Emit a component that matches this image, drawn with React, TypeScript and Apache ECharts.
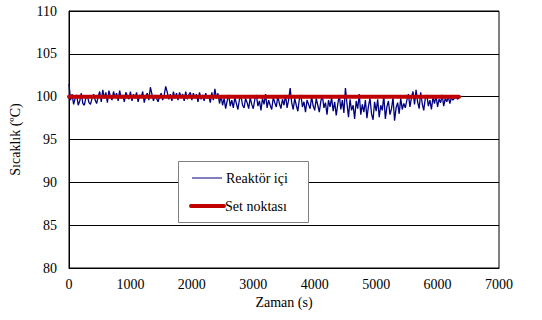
import React, { useEffect, useRef } from "react";
import * as echarts from "echarts";

const step = 25;
const reactorTemps: number[] = [
  101.5, 99.6, 100.3, 99.1, 99.8, 100.2, 99.0, 99.5, 100.4, 99.2, 99.0, 99.9, 100.1, 99.3, 99.1, 99.8, 100.3, 99.6, 99.2, 100.0,
  100.6, 99.4, 100.8, 99.8, 100.5, 99.3, 100.7, 100.0, 99.6, 100.6, 99.9, 100.4, 99.5, 100.7, 99.8, 100.2, 99.4, 100.5, 100.1, 99.7,
  100.6, 99.5, 100.3, 99.8, 100.5, 99.4, 100.2, 99.9, 100.6, 99.3, 100.1, 100.4, 99.6, 101.1, 100.3, 99.5, 100.2, 99.8, 99.4, 100.0,
  100.4, 99.6, 100.2, 101.2, 100.5, 99.7, 100.3, 99.5, 100.6, 99.8, 100.4, 99.6, 100.5, 99.9, 100.3, 99.5, 100.6, 99.7, 100.2, 100.5,
  99.6, 100.4, 99.8, 100.3, 99.4, 100.5, 99.7, 100.2, 99.5, 100.4, 99.8, 100.1, 99.3, 100.5, 99.6, 100.9, 99.8, 100.4, 99.2, 100.1,
  99.0, 99.8, 98.6, 99.5, 100.2, 98.9, 99.6, 98.7, 99.9, 99.2, 98.5, 99.7, 100.1, 99.0, 98.7, 99.8, 99.3, 98.6, 99.9, 99.1,
  98.6, 99.7, 100.2, 98.9, 99.5, 98.4, 99.8, 99.1, 100.3, 98.7, 99.6, 99.0, 98.5, 99.9, 99.3, 98.8, 100.1, 99.2, 98.6, 99.7,
  99.0, 100.2, 98.7, 99.6, 101.0, 99.3, 98.5, 99.8, 99.0, 98.3, 99.7, 100.2, 98.8, 99.4, 98.2, 99.6, 99.1, 98.6, 100.0, 98.9,
  98.4, 99.8, 99.0, 98.2, 99.5, 100.1, 98.7, 99.3, 97.9, 99.6, 98.8, 99.9, 98.3, 99.4, 97.8, 99.1, 100.2, 98.5, 99.6, 98.1,
  101.0, 99.2, 97.6, 99.7, 98.4, 99.0, 97.4, 99.5, 98.6, 100.3, 97.9, 99.1, 98.2, 99.6, 97.5, 98.9, 99.8, 98.0, 97.3, 99.4,
  98.3, 99.7, 97.6, 99.0, 98.4, 100.1, 97.4, 98.8, 99.5, 97.9, 98.6, 99.9, 97.2, 98.7, 99.3, 98.0, 99.8, 98.5, 99.2, 98.7,
  99.6, 100.3, 98.8, 99.9, 100.6, 99.1, 100.8, 99.4, 98.6, 100.5, 99.2, 98.4, 99.8, 100.2, 98.9, 99.6, 98.5, 99.9, 99.2, 100.1,
  98.8, 99.7, 99.3, 100.2, 98.9, 99.8, 99.4, 100.0, 99.2, 99.9, 99.6, 99.8, 100.0, 99.7, 99.9,
];
const setTimes: number[] = [0, 6350];
const setValues: number[] = [100, 100];

const FONT = "Liberation Serif";

export default function App() {
  const ref = useRef<HTMLDivElement>(null);
  useEffect(() => {
    if (!ref.current) return;
    const chart = echarts.init(ref.current, null, { renderer: "svg" });
    const reactorData = reactorTemps.map((v, i) => [i * step, v]);
    const setData = setTimes.map((t, i) => [t, setValues[i]]);
    chart.setOption({
      animation: false,
      backgroundColor: "#fff",
      textStyle: { fontFamily: FONT },
      grid: {
        left: 69,
        top: 11,
        right: 43,
        bottom: 52,
        show: true,
        borderColor: "#000",
        borderWidth: 1,
        backgroundColor: "transparent",
      },
      xAxis: {
        type: "value",
        min: 0,
        max: 7000,
        interval: 1000,
        name: "Zaman (s)",
        nameLocation: "middle",
        nameGap: 27,
        nameTextStyle: { fontFamily: FONT, fontSize: 14, color: "#000" },
        axisLine: { show: true, lineStyle: { color: "#000", width: 1 } },
        axisTick: { show: false },
        splitLine: { show: false },
        axisLabel: {
          fontFamily: FONT,
          fontSize: 14,
          color: "#000",
          margin: 9,
          formatter: (v: number) => String(v),
        },
      },
      yAxis: {
        type: "value",
        min: 80,
        max: 110,
        interval: 5,
        name: "Sıcaklık (ºC)",
        nameLocation: "middle",
        nameGap: 47,
        nameTextStyle: { fontFamily: FONT, fontSize: 14, color: "#000" },
        axisLine: { show: true, lineStyle: { color: "#000", width: 1 } },
        axisTick: { show: false },
        splitLine: { show: true, lineStyle: { color: "#000", width: 1 } },
        axisLabel: {
          fontFamily: FONT,
          fontSize: 14,
          color: "#000",
          margin: 12,
          formatter: (v: number) => String(v),
        },
      },
      series: [
        {
          name: "Reaktör içi",
          type: "line",
          data: reactorData,
          showSymbol: false,
          lineStyle: { color: "#000080", width: 1.3 },
          itemStyle: { color: "#000080" },
          z: 2,
        },
        {
          name: "Set noktası",
          type: "line",
          data: setData,
          showSymbol: false,
          lineStyle: { color: "#c00000", width: 4, cap: "round" },
          itemStyle: { color: "#c00000" },
          z: 3,
        },
      ],
      graphic: [
        {
          type: "rect",
          shape: { x: 178.5, y: 161.5, width: 130, height: 61 },
          style: { fill: "#fff", stroke: "#808080", lineWidth: 1 },
          z: 10,
        },
        {
          type: "line",
          shape: { x1: 192, y1: 178, x2: 222, y2: 178 },
          style: { stroke: "#000080", lineWidth: 1 },
          z: 11,
        },
        {
          type: "text",
          x: 226,
          y: 178,
          style: {
            text: "Reaktör içi",
            fontFamily: FONT,
            fontSize: 14,
            fill: "#000",
            verticalAlign: "middle",
          },
          z: 11,
        },
        {
          type: "line",
          shape: { x1: 191, y1: 206, x2: 224, y2: 206 },
          style: { stroke: "#c00000", lineWidth: 4, lineCap: "round" },
          z: 11,
        },
        {
          type: "text",
          x: 225,
          y: 206,
          style: {
            text: "Set noktası",
            fontFamily: FONT,
            fontSize: 14,
            fill: "#000",
            verticalAlign: "middle",
          },
          z: 11,
        },
      ],
    });
    return () => chart.dispose();
  }, []);
  return (
    <div
      ref={ref}
      style={{ position: "absolute", left: 0, top: 0, width: 542, height: 320 }}
    />
  );
}
